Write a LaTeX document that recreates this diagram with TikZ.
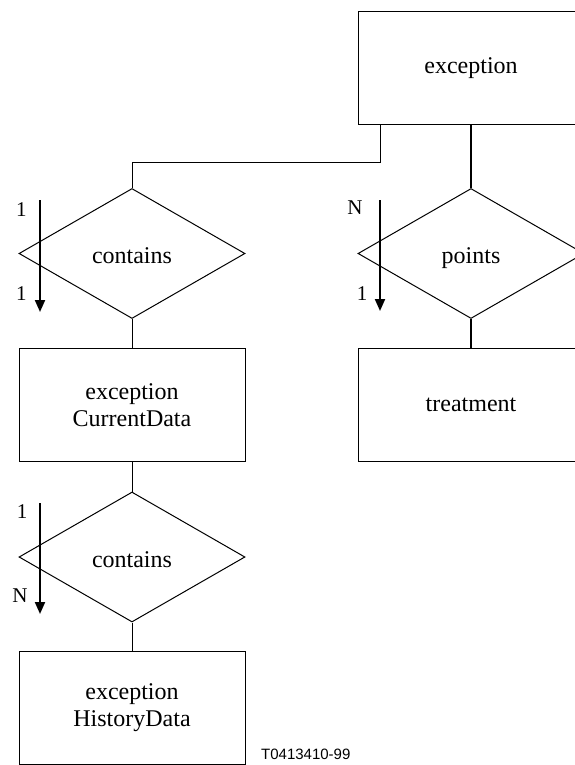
\documentclass[tikz,border=0pt]{standalone}
\usepackage{fontspec}
\setmainfont{Liberation Serif}
\newfontfamily\tagfont{Liberation Sans}
\usetikzlibrary{shapes.geometric,arrows.meta}

\begin{document}
\begin{tikzpicture}[x=1pt,y=-1pt,
  entity/.style={draw,line width=1pt,minimum width=226pt,minimum height=113pt,
    inner sep=0pt,align=center,font=\fontsize{24}{27}\selectfont},
  relation/.style={draw,diamond,line width=1pt,minimum width=226pt,minimum height=130pt,
    inner sep=0pt,text height=20pt,text depth=0pt,font=\fontsize{24}{27}\selectfont},
  link/.style={line width=1pt},
  card/.style={inner sep=0pt,font=\fontsize{21}{24}\selectfont},
  flow/.style={line width=2pt,-{Triangle[width=10pt,length=12pt]}}]
\useasboundingbox (0,0) rectangle (575,765);
\clip (0,0) rectangle (575,765);
% right column
\node[entity] (exc) at (471,68.5) {exception};
\node[relation] (pts) at (471,253.5) {points};
\node[entity] (trt) at (471,405) {treatment};
% left column
\node[relation] (cnt1) at (132,253.5) {contains};
\node[entity] (cur) at (132,405) {exception\\CurrentData};
\node[relation] (cnt2) at (132,557) {contains};
\node[entity] (his) at (132,707.5) {exception\\HistoryData};
% links
\coordinate (bend) at (380,162);
\draw[link] (bend |- exc.south) -- (bend) -| (cnt1.north);
\draw[link,line width=1.6pt] (exc.south) -- (pts.north);
\draw[link,line width=1.6pt] (pts.south) -- (trt.north);
\draw[link] (cnt1.south) -- (cur.north);
\draw[link] (cur.south) -- (cnt2.north);
\draw[link] (cnt2.south) -- (his.north);
% cardinality arrows
\coordinate (f1s) at (40,200); \coordinate (f1e) at (40,312);
\coordinate (f2s) at (380,200); \coordinate (f2e) at (380,311);
\coordinate (f3s) at (40,503); \coordinate (f3e) at (40,614);
\draw[flow] (f1s) -- (f1e);
\draw[flow] (f2s) -- (f2e);
\draw[flow] (f3s) -- (f3e);
\node[card] (f1a) at (21.5,210) {1};
\node[card] (f1b) at (21.5,293.5) {1};
\node[card] (f2a) at (355,208) {N};
\node[card] (f2b) at (362,293.5) {1};
\node[card] (f3a) at (22,512) {1};
\node[card] (f3b) at (20,596) {N};
\node[anchor=base west,inner sep=0pt,font=\tagfont\fontsize{15}{18}\selectfont] (tag) at (261,759) {T0413410-99};
\end{tikzpicture}
\end{document}
